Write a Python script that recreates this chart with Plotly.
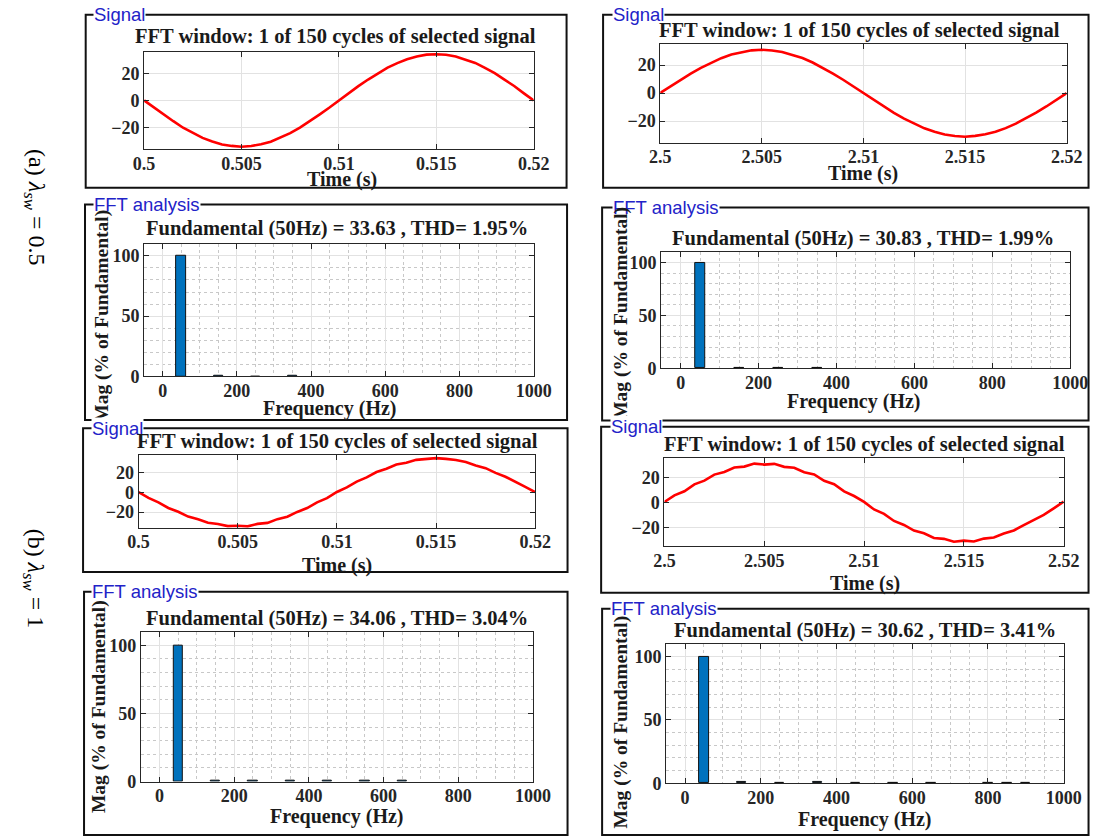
import plotly.graph_objects as go

W, H = 1108, 838

# ---------------- data ----------------
TIME_A = [round(0.5 + 0.0005 * k, 4) for k in range(41)]
TIME_B = [round(2.5 + 0.0005 * k, 4) for k in range(41)]

# (a) lambda_sw = 0.5
SIG_A_LEFT = [0.0, -5.2, -10.6, -15.3, -20.1, -24.0, -27.6, -30.2, -32.4, -33.5, -34.1,
              -33.6, -32.3, -30.4, -27.4, -24.1, -20.0, -15.5, -10.4, -5.4, 0.1,
              5.3, 10.5, 15.4, 20.0, 24.1, 27.5, 30.3, 32.4, 33.7, 34.0,
              33.6, 32.3, 30.2, 27.6, 24.0, 20.1, 15.3, 10.6, 5.2, 0.0]
SIG_A_RIGHT = [0.2, 4.9, 9.5, 14.0, 18.1, 21.8, 25.0, 27.6, 29.3, 30.6, 31.0,
               30.5, 29.4, 27.5, 25.1, 21.9, 18.2, 14.0, 9.6, 4.8, 0.1,
               -4.9, -9.6, -14.1, -18.2, -21.9, -25.1, -27.6, -29.5, -30.6, -31.1,
               -30.5, -29.4, -27.6, -25.0, -21.8, -18.1, -13.9, -9.5, -4.8, 0.0]
# (b) lambda_sw = 1
SIG_B_LEFT = [0.3, -5.6, -10.2, -15.8, -19.6, -24.5, -27.2, -30.8, -32.0, -34.2, -33.8,
              -34.4, -31.9, -30.9, -27.1, -24.6, -19.8, -15.9, -10.1, -5.8, 0.4,
              5.0, 10.9, 15.1, 20.6, 23.9, 28.1, 29.9, 32.9, 33.6, 34.6,
              33.9, 32.8, 30.7, 27.2, 24.5, 19.7, 15.8, 10.3, 5.6, 0.2]
SIG_B_RIGHT = [0.5, 5.8, 9.1, 14.6, 17.6, 22.4, 24.5, 28.1, 28.8, 31.2, 30.4,
               31.0, 28.6, 27.9, 24.3, 22.6, 17.5, 14.7, 9.0, 5.3, 0.6,
               -5.4, -9.0, -14.6, -17.8, -22.3, -24.4, -28.2, -28.9, -31.2, -30.3,
               -31.0, -28.7, -27.8, -24.7, -22.2, -17.9, -13.8, -9.7, -4.5, 0.8]

FREQ = list(range(0, 1001, 50))
MAG_A_LEFT = [0, 100, 0, 0.3, 0, 0.15, 0, 0.2, 0, 0, 0,
              0, 0, 0, 0, 0, 0, 0, 0, 0, 0]
MAG_A_RIGHT = [0, 100, 0, 0.4, 0, 0.2, 0, 0.4, 0, 0, 0,
               0, 0, 0, 0, 0, 0, 0, 0, 0, 0]
MAG_B_LEFT = [0, 100, 0, 0.9, 0, 0.4, 0, 0.6, 0, 0.4, 0,
              0.3, 0, 0.3, 0, 0, 0, 0, 0, 0, 0]
MAG_B_RIGHT = [0, 100, 0, 1.3, 0, 0.5, 0, 0.7, 0, 0.3, 0,
               0.3, 0, 0.3, 0, 0, 0.3, 0.3, 0.3, 0, 0]

TICKS_T_A = [0.5, 0.505, 0.51, 0.515, 0.52]
LABELS_T_A = ["0.5", "0.505", "0.51", "0.515", "0.52"]
TICKS_T_B = [2.5, 2.505, 2.51, 2.515, 2.52]
LABELS_T_B = ["2.5", "2.505", "2.51", "2.515", "2.52"]
TICKS_SIG_Y = [-20, 0, 20]
TICKS_F = [0, 200, 400, 600, 800, 1000]
TICKS_MAG = [0, 50, 100]

TITLE_SIG = "FFT window: 1 of 150 cycles of selected signal"
TITLES_FFT = ["Fundamental (50Hz) = 33.63 , THD= 1.95%",
              "Fundamental (50Hz) = 30.83 , THD= 1.99%",
              "Fundamental (50Hz) = 34.06 , THD= 3.04%",
              "Fundamental (50Hz) = 30.62 , THD= 3.41%"]
ROW_LABELS = ["(a) <i>λ</i><sub><i>sw</i></sub> = 0.5", "(b) <i>λ</i><sub><i>sw</i></sub> = 1"]

# ---------------- helpers ----------------
def px(x):
    return x / W

def py(y):
    return 1 - y / H

SERIF = "Liberation Serif"
SANS = "Liberation Sans"
AXC = "#262626"
TXT = 20.5

fig = go.Figure()
layout = dict(width=W, height=H, autosize=False, margin=dict(l=0, r=0, t=0, b=0),
              paper_bgcolor="white", plot_bgcolor="white", showlegend=False,
              annotations=[], shapes=[])

def base_axis(domain, rng, fft=False, is_x=True):
    ax = dict(domain=domain, range=rng, showline=True, linecolor=AXC, linewidth=1,
              mirror="ticks", ticks="inside", ticklen=5, tickcolor=AXC,
              showgrid=True, gridcolor="#e2e2e2", gridwidth=1, zeroline=False,
              tickfont=dict(family=SERIF, size=18, color=AXC, weight="bold"),
              fixedrange=True)
    if is_x:
        ax["ticklabelstandoff"] = -2
    if fft:
        ax["minor"] = dict(dtick=50 if is_x else 10, showgrid=True,
                           gridcolor="#c8c8c8", griddash="dot", gridwidth=1, ticks="")
    return ax

def ann(text, x, y, size=TXT, angle=0, family=SERIF, bold=True, color="#1a1a1a",
        xanchor="center", bg=None):
    a = dict(text=text, x=px(x), y=py(y), xref="paper", yref="paper", showarrow=False,
             xanchor=xanchor, yanchor="middle", textangle=angle,
             font=dict(family=family, size=size, color=color,
                       weight="bold" if bold else "normal"))
    if bg:
        a["bgcolor"] = bg
        a["borderpad"] = 0
    layout["annotations"].append(a)

def frame(x0, y0, x1, y1, label, lx, ly):
    layout["shapes"].append(dict(type="rect", xref="paper", yref="paper",
                                 x0=px(x0), x1=px(x1), y0=py(y1), y1=py(y0),
                                 line=dict(color="#111111", width=2)))
    ann(label, lx, ly, size=18.5, family=SANS, bold=False, color="#2222c8",
        xanchor="left", bg="white")

panels = [
    dict(kind="sig", i=1, xd=(136.7, 536.7), yd=(52.3, 150.7), t=TIME_A, v=SIG_A_LEFT,
         yr=[-35.7, 35.9], tv=TICKS_T_A, tl=LABELS_T_A,
         title=(333, 37.3), xl=(340, 182), fr=(76.7, 15, 570.5, 190), lab=(84, 15)),
    dict(kind="fft", i=2, xd=(136.7, 536.7), yd=(246.7, 381), v=MAG_A_LEFT,
         title=(334.5, 231.7), ttext=TITLES_FFT[0], xl=(328, 413), yl=(94, 320),
         fr=(76, 207, 571, 425), lab=(84, 207)),
    dict(kind="sig", i=3, xd=(666.7, 1084), yd=(45, 144.3), t=TIME_B, v=SIG_A_RIGHT,
         yr=[-35.3, 34.8], tv=TICKS_T_B, tl=LABELS_T_B,
         title=(871.7, 30.7), xl=(875, 176), fr=(608, 15, 1106.5, 190), lab=(617, 15)),
    dict(kind="fft", i=4, xd=(667.7, 1087.7), yd=(255, 372.7), v=MAG_A_RIGHT,
         title=(875, 241.7), ttext=TITLES_FFT[1], xl=(866, 406), yl=(627, 317),
         fr=(607, 210, 1106.5, 425.5), lab=(617, 210)),
    dict(kind="sig", i=5, xd=(131, 538.3), yd=(460.7, 534), t=TIME_A, v=SIG_B_LEFT,
         yr=[-35.7, 37.6], tv=TICKS_T_A, tl=LABELS_T_A,
         title=(335, 447.3), xl=(335, 572), fr=(74, 433.5, 571.5, 579), lab=(82, 433.5)),
    dict(kind="fft", i=6, xd=(133.3, 536), yd=(639.3, 791), v=MAG_B_LEFT,
         title=(335, 626), ttext=TITLES_FFT[2], xl=(335, 826.5), yl=(91, 715),
         fr=(75, 599, 571.5, 845), lab=(82, 599)),
    dict(kind="sig", i=7, xd=(671, 1081), yd=(464, 552.7), t=TIME_B, v=SIG_B_RIGHT,
         yr=[-34.7, 35.3], tv=TICKS_T_B, tl=LABELS_T_B,
         title=(876.3, 450), xl=(876.7, 591), fr=(606, 432, 1106.5, 600), lab=(615, 432)),
    dict(kind="fft", i=8, xd=(672.7, 1081), yd=(651.7, 792.7), v=MAG_B_RIGHT,
         title=(877.3, 638.3), ttext=TITLES_FFT[3], xl=(877, 829.5), yl=(626, 730.7),
         fr=(607, 616, 1106.5, 845), lab=(615, 616)),
]

for p in panels:
    i = p["i"]
    sfx = "" if i == 1 else str(i)
    xdom = [px(p["xd"][0]), px(p["xd"][1])]
    ydom = [py(p["yd"][1]), py(p["yd"][0])]
    if p["kind"] == "sig":
        fig.add_trace(go.Scatter(x=p["t"], y=p["v"], mode="lines",
                                 line=dict(color="#ff0000", width=2.6),
                                 xaxis="x" + sfx, yaxis="y" + sfx, hoverinfo="skip"))
        xa = base_axis(xdom, [p["tv"][0], p["tv"][-1]])
        xa.update(tickmode="array", tickvals=p["tv"], ticktext=p["tl"])
        ya = base_axis(ydom, p["yr"], is_x=False)
        ya.update(tickmode="array", tickvals=TICKS_SIG_Y)
        frame(*p["fr"], "Signal", *p["lab"])
        ann(TITLE_SIG, *p["title"])
        ann("Time (s)", *p["xl"], size=20)
    else:
        # bins with no visible magnitude are left undrawn
        yv = [v if v > 0 else None for v in p["v"]]
        fig.add_trace(go.Bar(x=FREQ, y=yv, width=25,
                             marker=dict(color="#0072BD", line=dict(color="#111111", width=1)),
                             xaxis="x" + sfx, yaxis="y" + sfx, hoverinfo="skip"))
        xa = base_axis(xdom, [-50, 1000], fft=True, is_x=True)
        xa.update(tickmode="array", tickvals=TICKS_F)
        ya = base_axis(ydom, [0, 110], fft=True, is_x=False)
        ya.update(tickmode="array", tickvals=TICKS_MAG)
        frame(*p["fr"], "FFT analysis", *p["lab"])
        ann(p["ttext"], *p["title"])
        ann("Frequency (Hz)", *p["xl"], size=20)
        ann("Mag (% of Fundamental)", *p["yl"], angle=-90, size=19.5)
    xa["anchor"] = "y" + sfx
    ya["anchor"] = "x" + sfx
    layout["xaxis" + sfx] = xa
    layout["yaxis" + sfx] = ya

# row labels (rotated, reading top to bottom)
ann(ROW_LABELS[0], 24, 210, size=24, angle=90, family=SERIF, bold=False, color="#000000")
ann(ROW_LABELS[1], 24, 586, size=24, angle=90, family=SERIF, bold=False, color="#000000")

fig.update_layout(**layout)
fig.update_layout(bargap=0)
fig.write_html("out.html", config={"displayModeBar": False})
